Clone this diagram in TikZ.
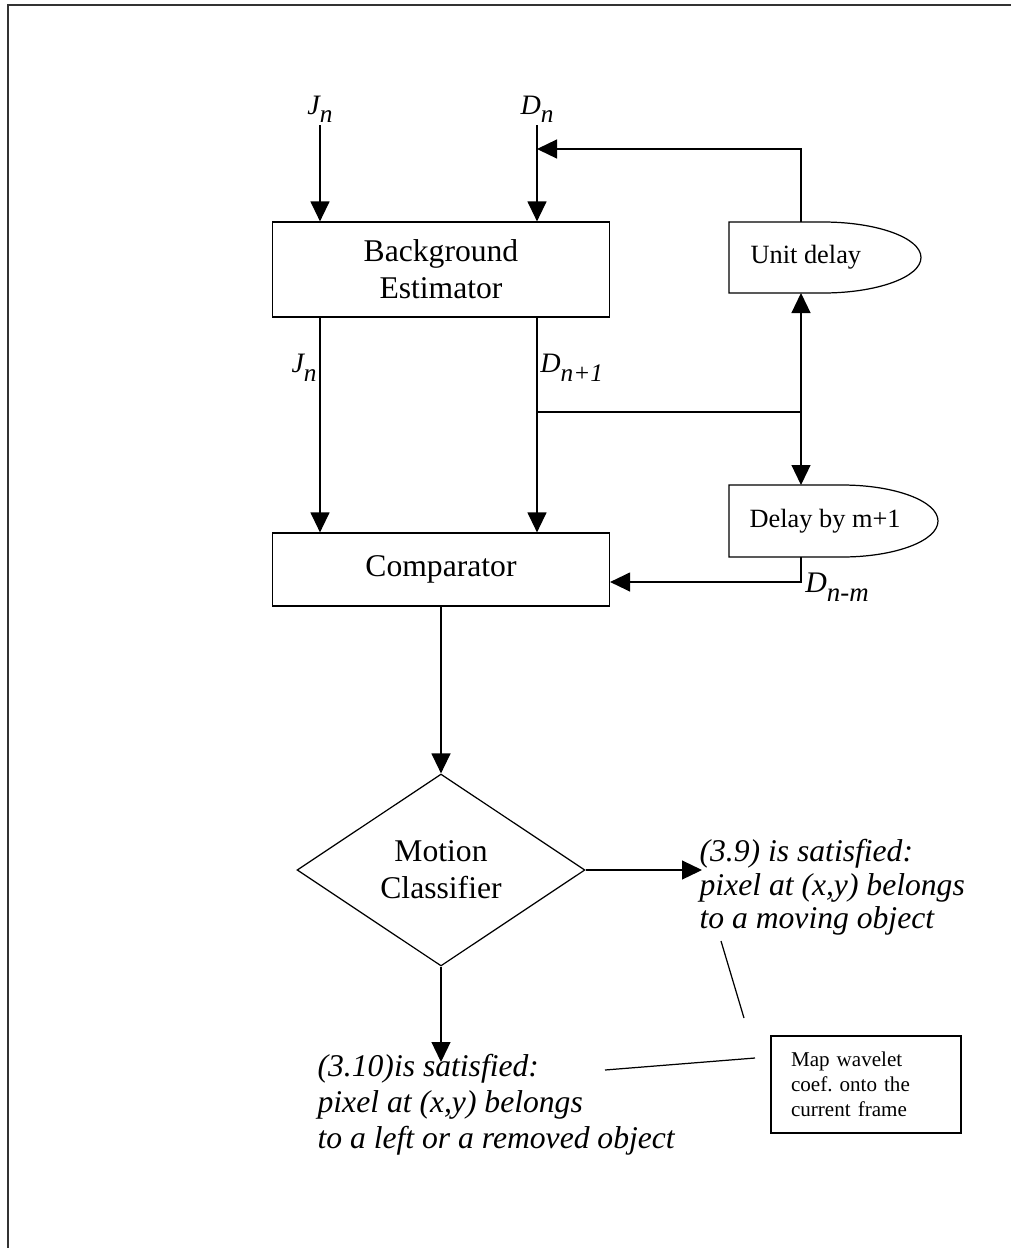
\documentclass[tikz,border=0pt]{standalone}
\usepackage{fontspec}
\usepackage{graphicx}
\setmainfont{Liberation Serif}
\usetikzlibrary{shapes.geometric,arrows.meta}

% signal name with lowered index
\newcommand{\sgn}[2]{#1\raisebox{-0.3em}{\scalebox{0.9}{#2}}}

\begin{document}
\frenchspacing
\begin{tikzpicture}[x=0.02cm, y=-0.02cm, line width=0.7pt,
    >={Triangle[length=0.4cm,width=0.38cm]},
    blk/.style={draw, inner sep=0pt, font=\fontsize{18}{21}\selectfont, align=center},
    dly/.style={font=\fontsize{15}{18}\selectfont, anchor=west, inner sep=0pt},
    sig/.style={font=\fontsize{16}{18}\selectfont\itshape, inner sep=1pt},
    res/.style={font=\fontsize{18}{19}\selectfont\itshape, align=left, anchor=north west, inner sep=0pt}]
  \useasboundingbox (0,0) rectangle (1011,1248);

  % frame
  \draw[line width=1.5pt, black!80] (8,1248) -- (8,5) -- (1011,5);

  % blocks
  \node[blk, minimum width=6.74cm, minimum height=1.9cm] (be) at (441,269.5) {Background\\Estimator};
  \node[blk, minimum width=6.74cm, minimum height=1.46cm] (cmp) at (441,569.5) {Comparator};
  \node[blk, diamond, shape aspect=1.5, minimum width=5.76cm, minimum height=3.84cm] (mc) at (441,870) {Motion\\Classifier};

  % delay units
  \draw (729,222) -- (823,222) arc[start angle=-90, end angle=90, x radius=98, y radius=35.5] -- (729,293) -- cycle;
  \node[dly] (ud) at (750,257.5) {Unit delay};
  \draw (729,485) -- (842,485) arc[start angle=-90, end angle=90, x radius=96, y radius=36] -- (729,557) -- cycle;
  \node[dly] (dm) at (749,521) {Delay by m+1};
  \coordinate (udn) at (801,222);
  \coordinate (uds) at (801,293);
  \coordinate (dmn) at (801,485);
  \coordinate (dms) at (801,557);

  % inputs
  \coordinate (jin) at (320,125);
  \coordinate (din) at (537,125);
  \node[sig, above] (jinlab) at (jin) {\sgn{J}{n}};
  \node[sig, above] (dinlab) at (din) {\sgn{D}{n}};
  \draw[->] (jin) -- (jin |- be.north);
  \draw[->] (din) -- (din |- be.north);

  % feedback through unit delay
  \coordinate (fb) at (801,149);
  \draw[->] (udn) -- (fb) -- (din |- fb);

  % estimator to comparator
  \draw[->] (be.south -| jin) -- (cmp.north -| jin);
  \draw[->] (be.south -| din) -- (cmp.north -| din);
  \node[sig, anchor=east] (jout) at (319,368) {\sgn{J}{n}};
  \node[sig, anchor=west] (dout) at (538,368) {\sgn{D}{n+1}};

  % branch to the delays
  \coordinate (br) at (537,412);
  \coordinate (brr) at (801,412);
  \draw (br) -- (brr);
  \draw[->] (brr) -- (uds);
  \draw[->] (brr) -- (dmn);
  \coordinate (dcor) at (801,582);
  \draw[->] (dms) -- (dcor) -- (dcor -| cmp.east);
  \node[sig, font=\fontsize{17}{19}\selectfont\itshape, anchor=north west] (dnm) at (803,571) {\sgn{D}{n-m}};

  % classifier
  \draw[->] (cmp.south) -- (mc.north);
  \coordinate (mv) at (702,870);
  \coordinate (lf) at (441,1062);
  \draw[->] (mc.east) -- (mv);
  \draw[->] (mc.south) -- (lf);
  \node[res] (mvtxt) at (699,839) {(3.9) is satisfied:\\pixel at (x,y) belongs\\to a moving object};
  \node[res, font=\fontsize{18}{20.5}\selectfont\itshape] (lftxt) at (317,1054) {(3.10)is satisfied:\\pixel at (x,y) belongs\\to a left or a removed object};

  % wavelet map
  \node[draw, minimum width=3.8cm, minimum height=1.94cm, text width=3cm, align=left,
    font=\fontsize{12}{14.2}\selectfont] (map) at (866,1084.5) {Map wavelet\\coef. onto the\\current frame};
  \coordinate (c1a) at (721,941);
  \coordinate (c1b) at (744,1018);
  \coordinate (c2a) at (605,1070);
  \coordinate (c2b) at (755,1058);
  \draw (c1a) -- (c1b);
  \draw (c2a) -- (c2b);
\end{tikzpicture}
\end{document}
